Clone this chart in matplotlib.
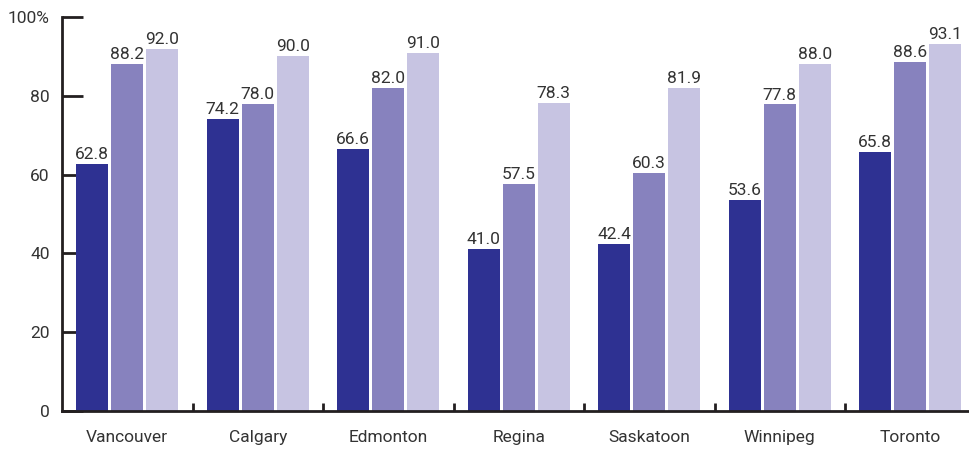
import matplotlib.pyplot as plt
import numpy as np

plt.rcParams['font.family'] = ['Roboto', 'DejaVu Sans']

cities = ['Vancouver', 'Calgary', 'Edmonton', 'Regina', 'Saskatoon', 'Winnipeg', 'Toronto']
series_a = [62.8, 74.2, 66.6, 41.0, 42.4, 53.6, 65.8]
series_b = [88.2, 78.0, 82.0, 57.5, 60.3, 77.8, 88.6]
series_c = [92.0, 90.0, 91.0, 78.3, 81.9, 88.0, 93.1]
yticks = [0, 20, 40, 60, 80, 100]
ytick_labels = ['0', '20', '40', '60', '80', '100%']

colors = ['#2e3192', '#8782be', '#c7c4e2']
txt = '#333333'

fig = plt.figure(figsize=(9.69, 4.49), dpi=100)
ax = fig.add_axes([0.064, 0.085, 0.936, 0.877])

x = np.arange(len(cities))
w = 0.245
off = 0.268
for i, (vals, c) in enumerate(zip([series_a, series_b, series_c], colors)):
    pos = x + (i - 1) * off
    bars = ax.bar(pos, vals, width=w, color=c, zorder=2)
    for b, v in zip(bars, vals):
        ax.text(b.get_x() + b.get_width() / 2, v + 0.5, f'{v:.1f}',
                ha='center', va='bottom', fontsize=12.5, color=txt)

ax.set_xlim(-0.5, 6.45)
ax.set_ylim(0, 100)
ax.set_yticks(yticks)
ax.set_yticklabels(ytick_labels)
ax.tick_params(axis='y', direction='in', length=15, width=2, color='#231f20',
               labelsize=12.5, labelcolor=txt, pad=9)

ax.set_xticks(x)
ax.set_xticklabels(cities)
ax.set_xticks(np.arange(0.5, 6.5, 1), minor=True)
ax.tick_params(axis='x', which='major', length=0, labelsize=12.5, labelcolor=txt, pad=14)
ax.tick_params(axis='x', which='minor', direction='in', length=6, width=2, color='#231f20')

for s in ['top', 'right']:
    ax.spines[s].set_visible(False)
for s in ['left', 'bottom']:
    ax.spines[s].set_linewidth(2)
    ax.spines[s].set_color('#231f20')

fig.savefig('out.png', dpi=100)
